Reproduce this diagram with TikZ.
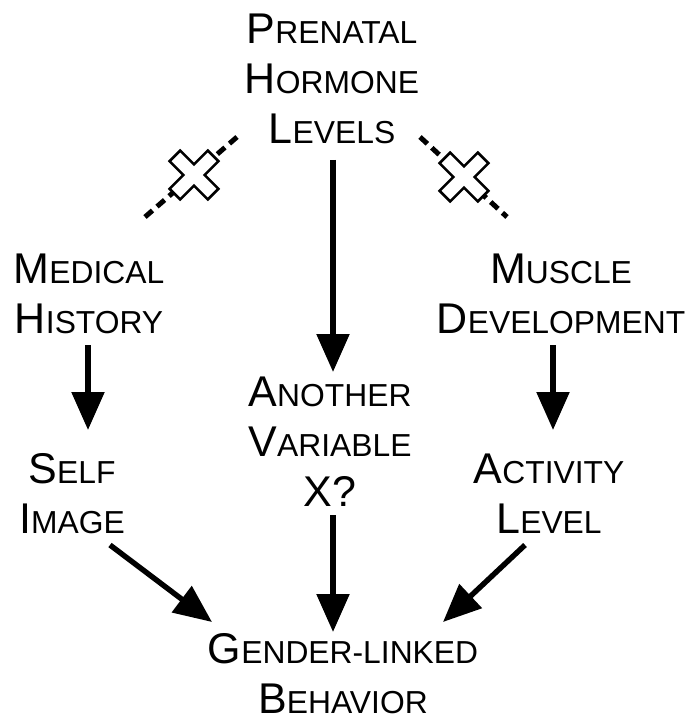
\documentclass[tikz,border=0pt]{standalone}
\usepackage{fontspec}
\setmainfont{Liberation Sans}
\usetikzlibrary{arrows.meta,positioning}
\tikzstyle{arrow} = [line width=2.7pt,-{Triangle[length=19pt,width=16pt]}]
\tikzstyle{label} = [align=center,font=\fontsize{21.5}{25}\selectfont,inner sep=0pt]
\tikzstyle{blocked} = [line width=2.5pt,dash pattern=on 5pt off 3pt]

% capital, then the rest as smaller capitals
\newcommand{\sm}[2]{#1{\fontsize{15.9}{25}\selectfont #2}}

\newcommand{\crossmark}[2]{%
  \filldraw[fill=white,line width=1.3pt,shift={#1},rotate=#2]
    (-7.5,-27) -- (7.5,-27) -- (7.5,-7.5) -- (27,-7.5) -- (27,7.5) -- (7.5,7.5)
    -- (7.5,27) -- (-7.5,27) -- (-7.5,7.5) -- (-27,7.5) -- (-27,-7.5)
    -- (-7.5,-7.5) -- cycle;}

\begin{document}
\begin{tikzpicture}[x=0.5pt,y=-0.5pt]
\useasboundingbox (0,0) rectangle (688,721);

\node[label] (prenatal) at (332,79) {\sm{P}{RENATAL}\\\sm{H}{ORMONE}\\\sm{L}{EVELS}};
\node[label] (medical) at (89,294) {\sm{M}{EDICAL}\\\sm{H}{ISTORY}};
\node[label] (muscle) at (561,294) {\sm{M}{USCLE}\\\sm{D}{EVELOPMENT}};
\node[label] (another) at (330,442) {\sm{A}{NOTHER}\\\sm{V}{ARIABLE}\\X?};
\node[label] (self) at (72,494) {\sm{S}{ELF}\\\sm{I}{MAGE}};
\node[label] (activity) at (549,494) {\sm{A}{CTIVITY}\\\sm{L}{EVEL}};
\node[label] (gender) at (343,674) {\sm{G}{ENDER-LINKED}\\\sm{B}{EHAVIOR}};

% blocked paths
\coordinate (lend) at (145,217);
\coordinate (rend) at (507,217);
\draw[blocked] (237,137) -- (lend);
\draw[blocked] (420,137) -- (rend);
\crossmark{(194,175)}{45}
\crossmark{(464,177)}{45}

% causal paths
\draw[arrow] (333,160) -- (333,372);
\draw[arrow] (88,345) -- (88,430);
\draw[arrow] (553,345) -- (553,430);
\draw[arrow] (333,515) -- (333,632);
\draw[arrow] (110,545) -- (212,622);
\draw[arrow] (525,545) -- (443,622);
\end{tikzpicture}
\end{document}
